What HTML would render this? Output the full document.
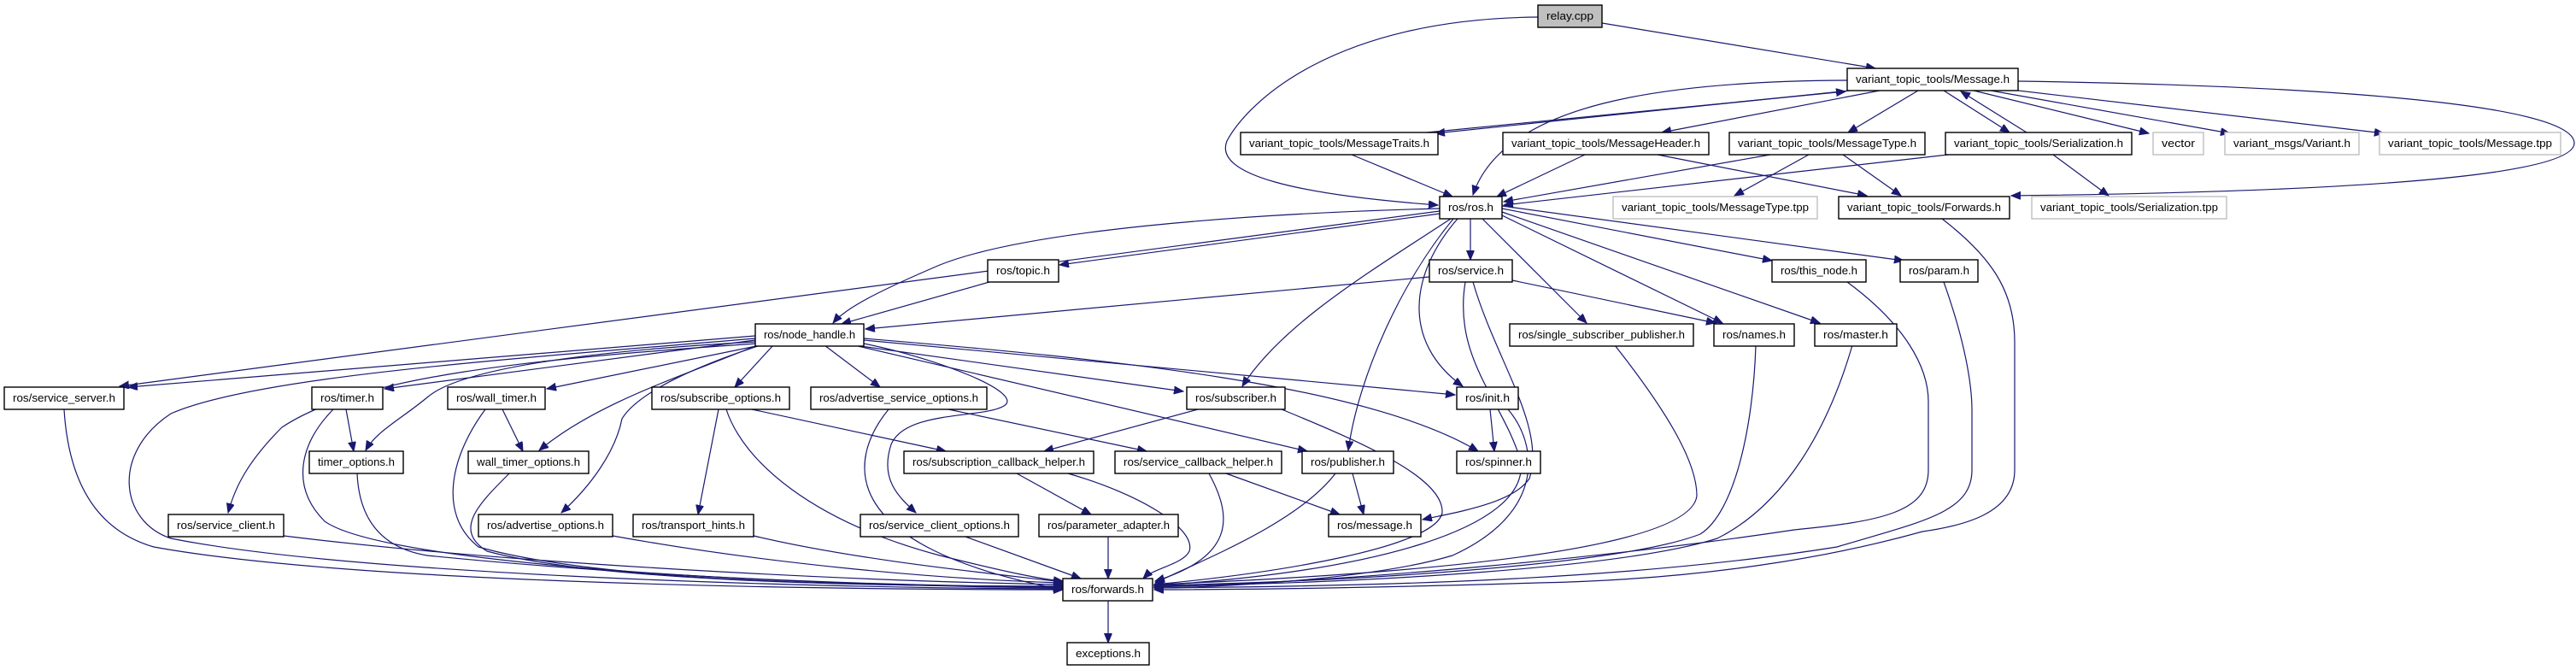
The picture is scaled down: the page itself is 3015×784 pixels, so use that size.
<!DOCTYPE html>
<html><head><meta charset="utf-8"><style>
html,body{margin:0;padding:0;background:#fff;}
svg{display:block;}
text{font-family:"Liberation Sans",sans-serif;font-size:12.5px;fill:#000;}
.e{fill:none;stroke:#191970;stroke-width:1.2;marker-end:url(#a);}
.n{fill:#fff;stroke:#000;stroke-width:1.4;}
.x{fill:#fff;stroke:#bfbfbf;stroke-width:1.4;}
.g{fill:#bfbfbf;stroke:#000;stroke-width:1.4;}
</style></head><body>
<svg width="3015" height="784" viewBox="0 0 3015 784" xmlns="http://www.w3.org/2000/svg">
<defs><marker id="a" markerUnits="userSpaceOnUse" markerWidth="12" markerHeight="10" refX="11" refY="4.5" orient="auto"><path d="M0,0 L11,4.5 L0,9 z" fill="#191970" stroke="#191970"/></marker></defs>
<g>
<path class="e" d="M1800,20 C1560,22 1460,120 1436,165 C1420,205 1520,228 1683,240"/>
<path class="e" d="M1875,27 L2195,80"/>
<path class="e" d="M2162,94 C1950,95 1760,120 1724,228"/>
<path class="e" d="M1670,155 L2160,107"/>
<path class="e" d="M2165,106 L1680,156"/>
<path class="e" d="M2200,106 L1945,155"/>
<path class="e" d="M2245,106 L2163,155"/>
<path class="e" d="M2275,106 L2352,155"/>
<path class="e" d="M2372,155 L2295,107"/>
<path class="e" d="M2310,106 L2515,156"/>
<path class="e" d="M2330,106 L2610,156"/>
<path class="e" d="M2345,104 L2790,156"/>
<path class="e" d="M2362,95 C2700,100 3010,120 3013,167 C3015,210 2700,225 2354,229"/>
<path class="e" d="M1582,181 L1700,230"/>
<path class="e" d="M1855,181 L1752,230"/>
<path class="e" d="M1940,181 L2185,229"/>
<path class="e" d="M2072,181 L1760,236"/>
<path class="e" d="M2117,181 L2030,229"/>
<path class="e" d="M2157,181 L2225,229"/>
<path class="e" d="M2280,181 L1760,240"/>
<path class="e" d="M2403,181 L2468,229"/>
<path class="e" d="M2273,256 C2330,300 2358,340 2358,400 L2358,550 C2358,600 2300,615 2250,622 C2150,650 2000,678 1800,682 C1600,688 1450,690 1351,690"/>
<path class="e" d="M1685,247 L140,452"/>
<path class="e" d="M1685,244 C1450,250 1200,270 1100,310 C1030,340 990,360 975,378"/>
<path class="e" d="M1685,250 L1240,310"/>
<path class="e" d="M1721,256 L1721,304"/>
<path class="e" d="M1698,256 C1600,320 1500,380 1454,452"/>
<path class="e" d="M1701,256 C1640,330 1590,440 1578,527"/>
<path class="e" d="M1706,256 C1650,320 1640,400 1712,452"/>
<path class="e" d="M1735,256 L1857,378"/>
<path class="e" d="M1758,252 L2016,378"/>
<path class="e" d="M1758,248 L2130,378"/>
<path class="e" d="M1758,244 L2074,305"/>
<path class="e" d="M1758,241 L2228,305"/>
<path class="e" d="M1770,328 L2008,378"/>
<path class="e" d="M1673,324 L1013,385"/>
<path class="e" d="M1724,330 C1750,420 1810,500 1790,560 C1770,590 1700,600 1665,608"/>
<path class="e" d="M1715,330 C1700,420 1760,470 1780,540 C1790,620 1600,670 1351,685"/>
<path class="e" d="M1158,330 L985,379"/>
<path class="e" d="M1744,479 L1749,528"/>
<path class="e" d="M1765,479 C1800,520 1810,600 1700,650 C1600,680 1400,688 1351,688"/>
<path class="e" d="M1402,479 L1222,528"/>
<path class="e" d="M1500,479 C1600,520 1690,560 1688,600 C1680,640 1500,670 1351,684"/>
<path class="e" d="M884,393 L150,453"/>
<path class="e" d="M884,398 L450,455"/>
<path class="e" d="M890,404 L640,455"/>
<path class="e" d="M905,404 L860,453"/>
<path class="e" d="M965,404 L1030,453"/>
<path class="e" d="M1000,404 L1385,458"/>
<path class="e" d="M1011,398 L1703,462"/>
<path class="e" d="M1000,404 L1530,528"/>
<path class="e" d="M1011,396 C1300,420 1600,450 1730,528"/>
<path class="e" d="M884,400 C700,410 540,430 500,465 C470,490 440,505 428,527"/>
<path class="e" d="M886,404 C800,440 700,470 631,527"/>
<path class="e" d="M886,402 C620,420 420,440 330,500 C290,540 275,570 267,600"/>
<path class="e" d="M890,404 C780,440 740,470 728,490 C720,530 690,570 657,600"/>
<path class="e" d="M1011,402 C1100,420 1200,460 1175,475 C1150,490 1060,480 1043,520 C1030,560 1050,580 1072,600"/>
<path class="e" d="M1040,479 C990,540 980,640 1244,690"/>
<path class="e" d="M75,479 C80,560 110,620 180,640 C400,680 900,690 1244,690"/>
<path class="e" d="M884,396 C600,420 300,440 200,484 C130,530 140,610 200,630 C400,670 900,688 1244,689"/>
<path class="e" d="M390,479 C350,520 340,570 380,610 C450,660 900,685 1244,688"/>
<path class="e" d="M418,554 C420,600 440,640 500,650 C800,680 1100,686 1244,687"/>
<path class="e" d="M568,479 C530,530 510,600 560,640 C700,680 1000,686 1244,686"/>
<path class="e" d="M596,554 C560,590 530,620 570,645 C700,680 1000,686 1244,686"/>
<path class="e" d="M332,627 C600,660 1000,680 1244,684"/>
<path class="e" d="M717,627 C900,660 1100,678 1244,682"/>
<path class="e" d="M882,627 C1000,655 1150,670 1244,681"/>
<path class="e" d="M850,479 C870,540 950,610 1100,650 C1180,670 1220,678 1244,680"/>
<path class="e" d="M841,479 L817,602"/>
<path class="e" d="M880,479 L1107,528"/>
<path class="e" d="M1110,479 L1342,528"/>
<path class="e" d="M1190,554 L1277,602"/>
<path class="e" d="M1250,554 C1340,580 1400,620 1392,645 C1385,660 1350,665 1338,677"/>
<path class="e" d="M1435,554 L1568,602"/>
<path class="e" d="M1415,554 C1440,600 1450,650 1352,680"/>
<path class="e" d="M1583,554 L1596,602"/>
<path class="e" d="M1563,554 C1520,610 1420,650 1352,682"/>
<path class="e" d="M1130,628 L1265,677"/>
<path class="e" d="M1297,628 L1297,677"/>
<path class="e" d="M1297,703 L1297,752"/>
<path class="e" d="M1890,404 C1950,480 1986,540 1986,580 C1980,640 1700,670 1351,684"/>
<path class="e" d="M2055,404 C2052,500 2030,600 1990,625 C1900,660 1600,680 1351,685"/>
<path class="e" d="M2168,404 C2140,500 2090,590 2010,630 C1900,665 1600,682 1351,686"/>
<path class="e" d="M2162,330 C2230,380 2257,430 2257,470 L2257,550 C2257,600 2200,610 2100,620 C1900,650 1600,680 1351,687"/>
<path class="e" d="M2275,330 C2300,400 2308,450 2308,480 L2308,550 C2308,600 2250,610 2150,640 C1900,680 1600,686 1351,688"/>
<path class="e" d="M405,479 L414,528"/>
<path class="e" d="M588,479 L612,528"/>
</g>
<g>
<rect class="g" x="1800" y="6" width="75" height="26"/><text x="1837.5" y="23" text-anchor="middle" textLength="55" lengthAdjust="spacingAndGlyphs">relay.cpp</text>
<rect class="n" x="2162" y="80" width="200" height="26"/><text x="2262" y="97" text-anchor="middle" textLength="180" lengthAdjust="spacingAndGlyphs">variant_topic_tools/Message.h</text>
<rect class="n" x="1452" y="155" width="231" height="26"/><text x="1567.5" y="172" text-anchor="middle" textLength="211" lengthAdjust="spacingAndGlyphs">variant_topic_tools/MessageTraits.h</text>
<rect class="n" x="1759" y="155" width="241" height="26"/><text x="1879.5" y="172" text-anchor="middle" textLength="221" lengthAdjust="spacingAndGlyphs">variant_topic_tools/MessageHeader.h</text>
<rect class="n" x="2024" y="155" width="229" height="26"/><text x="2138.5" y="172" text-anchor="middle" textLength="209" lengthAdjust="spacingAndGlyphs">variant_topic_tools/MessageType.h</text>
<rect class="n" x="2277" y="155" width="218" height="26"/><text x="2386" y="172" text-anchor="middle" textLength="198" lengthAdjust="spacingAndGlyphs">variant_topic_tools/Serialization.h</text>
<rect class="x" x="2520" y="155" width="59" height="26"/><text x="2549.5" y="172" text-anchor="middle" textLength="39" lengthAdjust="spacingAndGlyphs">vector</text>
<rect class="x" x="2604" y="155" width="157" height="26"/><text x="2682.5" y="172" text-anchor="middle" textLength="137" lengthAdjust="spacingAndGlyphs">variant_msgs/Variant.h</text>
<rect class="x" x="2785" y="155" width="212" height="26"/><text x="2891" y="172" text-anchor="middle" textLength="192" lengthAdjust="spacingAndGlyphs">variant_topic_tools/Message.tpp</text>
<rect class="n" x="1685" y="230" width="73" height="26"/><text x="1721.5" y="247" text-anchor="middle" textLength="53" lengthAdjust="spacingAndGlyphs">ros/ros.h</text>
<rect class="x" x="1888" y="230" width="239" height="26"/><text x="2007.5" y="247" text-anchor="middle" textLength="219" lengthAdjust="spacingAndGlyphs">variant_topic_tools/MessageType.tpp</text>
<rect class="n" x="2152" y="230" width="200" height="26"/><text x="2252" y="247" text-anchor="middle" textLength="180" lengthAdjust="spacingAndGlyphs">variant_topic_tools/Forwards.h</text>
<rect class="x" x="2378" y="230" width="228" height="26"/><text x="2492" y="247" text-anchor="middle" textLength="208" lengthAdjust="spacingAndGlyphs">variant_topic_tools/Serialization.tpp</text>
<rect class="n" x="1156" y="304" width="83" height="26"/><text x="1197.5" y="321" text-anchor="middle" textLength="63" lengthAdjust="spacingAndGlyphs">ros/topic.h</text>
<rect class="n" x="1673" y="304" width="97" height="26"/><text x="1721.5" y="321" text-anchor="middle" textLength="77" lengthAdjust="spacingAndGlyphs">ros/service.h</text>
<rect class="n" x="2074" y="304" width="110" height="26"/><text x="2129" y="321" text-anchor="middle" textLength="90" lengthAdjust="spacingAndGlyphs">ros/this_node.h</text>
<rect class="n" x="2224" y="304" width="91" height="26"/><text x="2269.5" y="321" text-anchor="middle" textLength="71" lengthAdjust="spacingAndGlyphs">ros/param.h</text>
<rect class="n" x="884" y="379" width="127" height="26"/><text x="947.5" y="396" text-anchor="middle" textLength="107" lengthAdjust="spacingAndGlyphs">ros/node_handle.h</text>
<rect class="n" x="1767" y="379" width="215" height="26"/><text x="1874.5" y="396" text-anchor="middle" textLength="195" lengthAdjust="spacingAndGlyphs">ros/single_subscriber_publisher.h</text>
<rect class="n" x="2006" y="379" width="94" height="26"/><text x="2053" y="396" text-anchor="middle" textLength="74" lengthAdjust="spacingAndGlyphs">ros/names.h</text>
<rect class="n" x="2124" y="379" width="96" height="26"/><text x="2172" y="396" text-anchor="middle" textLength="76" lengthAdjust="spacingAndGlyphs">ros/master.h</text>
<rect class="n" x="5" y="453" width="140" height="26"/><text x="75" y="470" text-anchor="middle" textLength="120" lengthAdjust="spacingAndGlyphs">ros/service_server.h</text>
<rect class="n" x="365" y="453" width="83" height="26"/><text x="406.5" y="470" text-anchor="middle" textLength="63" lengthAdjust="spacingAndGlyphs">ros/timer.h</text>
<rect class="n" x="524" y="453" width="114" height="26"/><text x="581" y="470" text-anchor="middle" textLength="94" lengthAdjust="spacingAndGlyphs">ros/wall_timer.h</text>
<rect class="n" x="763" y="453" width="161" height="26"/><text x="843.5" y="470" text-anchor="middle" textLength="141" lengthAdjust="spacingAndGlyphs">ros/subscribe_options.h</text>
<rect class="n" x="949" y="453" width="206" height="26"/><text x="1052" y="470" text-anchor="middle" textLength="186" lengthAdjust="spacingAndGlyphs">ros/advertise_service_options.h</text>
<rect class="n" x="1389" y="453" width="115" height="26"/><text x="1446.5" y="470" text-anchor="middle" textLength="95" lengthAdjust="spacingAndGlyphs">ros/subscriber.h</text>
<rect class="n" x="1705" y="453" width="72" height="26"/><text x="1741" y="470" text-anchor="middle" textLength="52" lengthAdjust="spacingAndGlyphs">ros/init.h</text>
<rect class="n" x="362" y="528" width="110" height="26"/><text x="417" y="545" text-anchor="middle" textLength="90" lengthAdjust="spacingAndGlyphs">timer_options.h</text>
<rect class="n" x="548" y="528" width="141" height="26"/><text x="618.5" y="545" text-anchor="middle" textLength="121" lengthAdjust="spacingAndGlyphs">wall_timer_options.h</text>
<rect class="n" x="1058" y="528" width="222" height="26"/><text x="1169" y="545" text-anchor="middle" textLength="202" lengthAdjust="spacingAndGlyphs">ros/subscription_callback_helper.h</text>
<rect class="n" x="1305" y="528" width="195" height="26"/><text x="1402.5" y="545" text-anchor="middle" textLength="175" lengthAdjust="spacingAndGlyphs">ros/service_callback_helper.h</text>
<rect class="n" x="1524" y="528" width="107" height="26"/><text x="1577.5" y="545" text-anchor="middle" textLength="87" lengthAdjust="spacingAndGlyphs">ros/publisher.h</text>
<rect class="n" x="1705" y="528" width="98" height="26"/><text x="1754" y="545" text-anchor="middle" textLength="78" lengthAdjust="spacingAndGlyphs">ros/spinner.h</text>
<rect class="n" x="197" y="602" width="135" height="26"/><text x="264.5" y="619" text-anchor="middle" textLength="115" lengthAdjust="spacingAndGlyphs">ros/service_client.h</text>
<rect class="n" x="560" y="602" width="157" height="26"/><text x="638.5" y="619" text-anchor="middle" textLength="137" lengthAdjust="spacingAndGlyphs">ros/advertise_options.h</text>
<rect class="n" x="741" y="602" width="141" height="26"/><text x="811.5" y="619" text-anchor="middle" textLength="121" lengthAdjust="spacingAndGlyphs">ros/transport_hints.h</text>
<rect class="n" x="1007" y="602" width="185" height="26"/><text x="1099.5" y="619" text-anchor="middle" textLength="165" lengthAdjust="spacingAndGlyphs">ros/service_client_options.h</text>
<rect class="n" x="1216" y="602" width="163" height="26"/><text x="1297.5" y="619" text-anchor="middle" textLength="143" lengthAdjust="spacingAndGlyphs">ros/parameter_adapter.h</text>
<rect class="n" x="1555" y="602" width="108" height="26"/><text x="1609" y="619" text-anchor="middle" textLength="88" lengthAdjust="spacingAndGlyphs">ros/message.h</text>
<rect class="n" x="1244" y="677" width="105" height="26"/><text x="1296.5" y="694" text-anchor="middle" textLength="85" lengthAdjust="spacingAndGlyphs">ros/forwards.h</text>
<rect class="n" x="1249" y="752" width="96" height="26"/><text x="1297" y="769" text-anchor="middle" textLength="76" lengthAdjust="spacingAndGlyphs">exceptions.h</text>
</g>
</svg>
</body></html>
